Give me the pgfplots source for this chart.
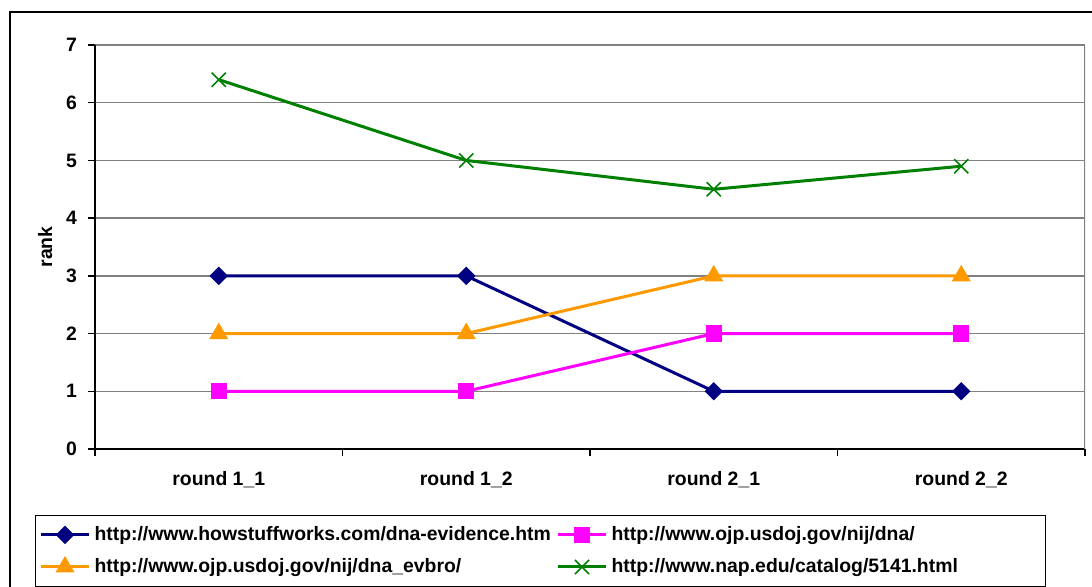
\documentclass[border=0pt]{standalone}
\usepackage{pgfplots}
\pgfplotsset{compat=1.18}
\usepackage{fontspec}
\setmainfont{Liberation Sans}
\definecolor{navyS}{RGB}{0,0,128}
\definecolor{orangeS}{RGB}{255,153,0}
\definecolor{magS}{RGB}{255,0,255}
\definecolor{greenS}{RGB}{0,128,0}
\newcommand{\chfont}{\fontsize{9.7}{11.5}\selectfont\bfseries}

\begin{document}
\begin{tikzpicture}[font=\chfont]
% 1 px of the reference = 0.5pt
\useasboundingbox (0pt,0pt) rectangle (546pt,293pt);
% outer frame (only top and left edges are visible)
\draw[line width=1pt] (5pt,-5pt) -- (5pt,287pt) -- (550pt,287pt);
\begin{axis}[
  at={(47.5pt,68.5pt)}, anchor=south west,
  scale only axis, width=495pt, height=202pt,
  xmin=-0.5, xmax=3.5, ymin=0, ymax=7,
  axis lines=left, axis line style={-, black, line width=0.7pt},
  xtick={0,1,2,3},
  xticklabels={round 1\_1, round 1\_2, round 2\_1, round 2\_2},
  major x tick style={draw=none},
  minor xtick={-0.5,0.5,1.5,2.5,3.5},
  ytick={0,1,...,7},
  tick align=outside,
  tick style={black, line width=0.7pt},
  major tick length=3.5pt, minor tick length=3.5pt,
  ymajorgrids, grid style={gray, line width=0.7pt},
  tick label style={font=\chfont},
  /pgf/number format/assume math mode=true,
  xticklabel style={yshift=-4pt},
  yticklabel style={xshift=-2pt},
  ylabel={rank}, ylabel style={font=\chfont},
  legend columns=2,
  legend cell align=left,
  legend style={at={(-0.0606,-0.163)}, anchor=north west,
    draw=black, line width=0.5pt, font=\chfont,
    inner xsep=2pt, inner ysep=3.5pt,
    row sep=3.5pt,
    /tikz/column 2/.append style={text width=229pt},
    /tikz/column 4/.append style={text width=213pt}},
  legend image code/.code={
    \draw[mark repeat=2, mark phase=2, #1] plot coordinates {(0pt,0pt) (12pt,0pt) (24pt,0pt)};
  },
]
\draw[gray, line width=0.7pt] (rel axis cs:1,0) -- (rel axis cs:1,1);

\addplot[navyS, line width=1.5pt, mark=square*, mark size=3pt,
  mark options={rotate=45, line width=0.5pt}]
  coordinates {(0,3) (1,3) (2,1) (3,1)};
\addlegendentry{http://www.howstuffworks.com/dna-evidence.htm}

\addplot[magS, line width=1.5pt, mark=square*, mark size=3.8pt,
  mark options={line width=0.5pt}]
  coordinates {(0,1) (1,1) (2,2) (3,2)};
\addlegendentry{http://www.ojp.usdoj.gov/nij/dna/}

\addplot[orangeS, line width=1.5pt, mark=triangle*, mark size=5pt,
  mark options={line width=0.5pt}]
  coordinates {(0,2) (1,2) (2,3) (3,3)};
\addlegendentry{http://www.ojp.usdoj.gov/nij/dna\_evbro/}

\addplot[greenS, line width=1.5pt, mark=x, mark size=5pt,
  mark options={line width=0.8pt}]
  coordinates {(0,6.4) (1,5) (2,4.5) (3,4.9)};
\addlegendentry{http://www.nap.edu/catalog/5141.html}
\end{axis}
\end{tikzpicture}
\end{document}
